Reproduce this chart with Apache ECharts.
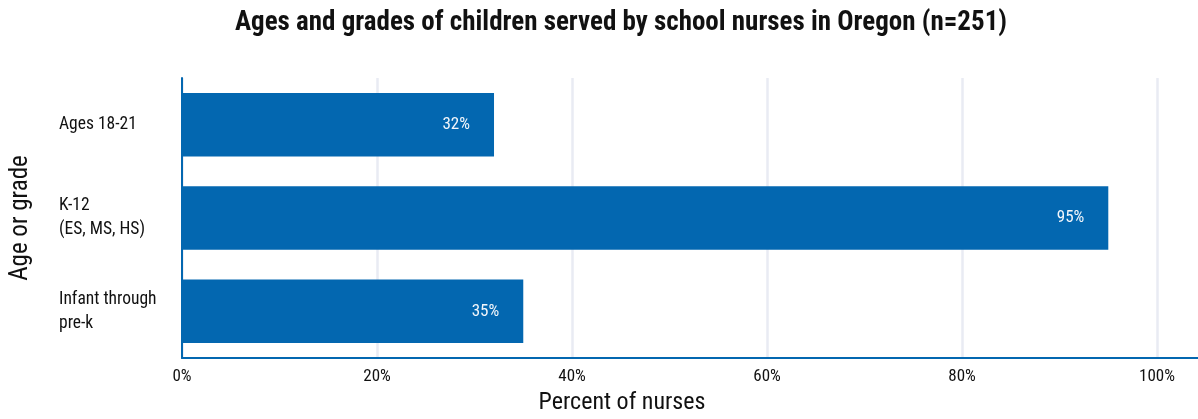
<!DOCTYPE html>
<html>
<head>
<meta charset="utf-8">
<script src="https://cdn.jsdelivr.net/npm/echarts@6/dist/echarts.min.js"></script>
<style>
  html, body { margin: 0; padding: 0; background: #fff; }
  #chart { width: 1198px; height: 419px; }
</style>
</head>
<body>
<div id="chart"></div>
<script>
// Share of Oregon school nurses serving each age / grade group
const categories = ['Infant through\npre-k', 'K-12\n(ES, MS, HS)', 'Ages 18-21'];
const percents = [35, 95, 32];
const tickValues = [0, 20, 40, 60, 80, 100];

const FONT = '"Roboto Condensed", "Open Sans Condensed", "Liberation Sans Narrow", sans-serif';
const BLUE = '#0367b0';
const INK = '#111111';

const chart = echarts.init(document.getElementById('chart'), null, { renderer: 'canvas' });

chart.setOption({
  animation: false,
  backgroundColor: '#ffffff',
  title: {
    text: 'Ages and grades of children served by school nurses in Oregon (n=251)',
    left: 616,
    textAlign: 'center',
    top: 5,
    textStyle: { fontFamily: FONT, fontWeight: 'bold', fontSize: 27, color: INK }
  },
  grid: { left: 182, right: 0, top: 78, bottom: 61, containLabel: false, outerBoundsMode: 'none' },
  xAxis: {
    type: 'value',
    min: 0,
    // the bottom axis line runs a little past 100% to the right edge
    max: 104.2,
    interval: 20,
    name: 'Percent of nurses',
    nameLocation: 'middle',
    nameGap: 33,
    nameTextStyle: { fontFamily: FONT, fontSize: 24, color: INK, padding: [0, 0, 0, -136] },
    axisLine: { show: true, lineStyle: { color: BLUE, width: 2 } },
    axisTick: { show: false },
    axisLabel: {
      fontFamily: FONT, fontSize: 17, color: INK, margin: 10,
      showMaxLabel: false,
      formatter: v => (tickValues.indexOf(v) >= 0 ? v + '%' : '')
    },
    splitLine: { show: true, showMaxLine: false, lineStyle: { color: '#e9ebf3', width: 2.5 } }
  },
  yAxis: {
    type: 'category',
    data: categories,
    name: 'Age or grade',
    nameLocation: 'middle',
    nameGap: 149,
    nameTextStyle: { fontFamily: FONT, fontSize: 25, color: INK },
    axisLine: { show: true, lineStyle: { color: BLUE, width: 2 } },
    axisTick: { show: false },
    axisLabel: {
      fontFamily: FONT, fontSize: 17.5, color: INK, align: 'left', margin: 123, lineHeight: 24
    },
    splitLine: { show: false }
  },
  series: [{
    type: 'bar',
    data: percents,
    barWidth: '68%',
    itemStyle: { color: BLUE },
    label: {
      show: true,
      position: 'insideRight',
      distance: 24,
      formatter: p => p.value + '%',
      fontFamily: FONT, fontSize: 17, color: '#f2f6fb'
    }
  }]
});
</script>
</body>
</html>
